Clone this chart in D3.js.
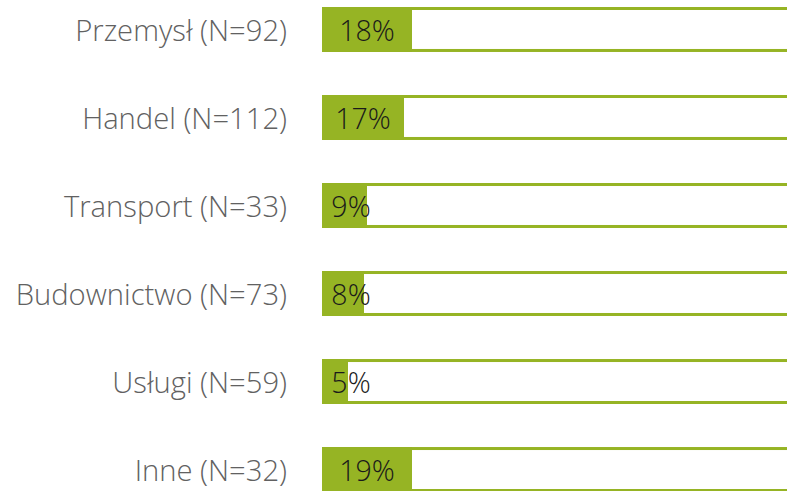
<!DOCTYPE html>
<html><head><meta charset="utf-8">
<script src="https://cdn.jsdelivr.net/npm/d3@7"></script>
<style>body{margin:0;background:#fff}svg{display:block}</style>
</head><body>
<svg id="c" width="787" height="491"></svg>
<script>
const categories = ["Przemysł (N=92)","Handel (N=112)","Transport (N=33)","Budownictwo (N=73)","Usługi (N=59)","Inne (N=32)"];
const values = [18, 16.4, 9, 8.4, 5.2, 18];
const valueLabels = ["18%","17%","9%","8%","5%","19%"];

const svg = d3.select("#c");
const green = "#96b424";
const x0 = 322;
const x = d3.scaleLinear().domain([0, 100]).range([x0, x0 + 500]);
const y = d3.scaleBand().domain(categories).range([7, 492]).paddingInner(0.489).paddingOuter(0);

const g = svg.selectAll("g.row").data(categories).join("g").attr("class","row");
g.append("rect")
  .attr("x", x0).attr("y", d => y(d))
  .attr("width", 520).attr("height", 3).attr("fill", green);
g.append("rect")
  .attr("x", x0).attr("y", d => y(d) + y.bandwidth() - 3)
  .attr("width", 520).attr("height", 3).attr("fill", green);
g.append("rect")
  .attr("x", x0).attr("y", d => y(d))
  .attr("width", (d,i) => x(values[i]) - x0).attr("height", y.bandwidth())
  .attr("fill", green);
g.append("text")
  .attr("x", 287).attr("y", d => y(d) + y.bandwidth()/2 + 1)
  .attr("dy", "0.36em").attr("text-anchor", "end")
  .attr("font-family", "'Open Sans'").attr("font-weight", 300)
  .attr("font-size", 29.2).attr("fill", "#616161")
  .text(d => d);
g.append("text")
  .attr("x", (d,i) => x0 + Math.max(x(values[i]) - x0, 58)/2)
  .attr("y", d => y(d) + y.bandwidth()/2 + 1)
  .attr("dy", "0.36em").attr("text-anchor", "middle")
  .attr("font-family", "'Open Sans'").attr("font-weight", 300)
  .attr("font-size", 28.5).attr("fill", "#1a1a1a")
  .text((d,i) => valueLabels[i]);
</script>
</body></html>
